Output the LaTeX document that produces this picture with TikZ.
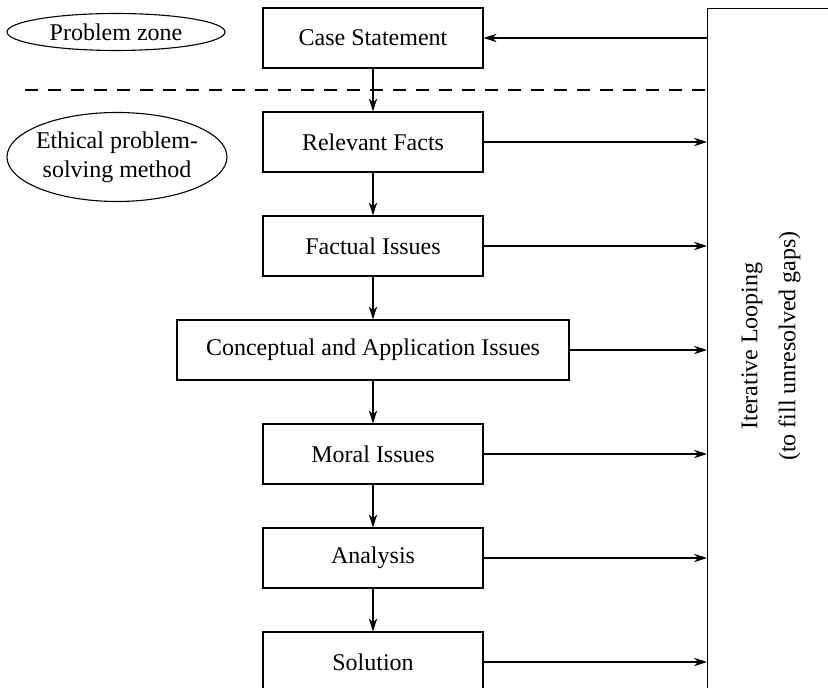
\documentclass[tikz,border=0pt]{standalone}
\usepackage{fontspec}
\setmainfont{Liberation Serif}
\usetikzlibrary{arrows.meta,shapes.geometric}
\begin{document}
\begin{tikzpicture}[x=0.5pt,y=-0.5pt,
  every node/.style={font=\fontsize{12}{14.5}\selectfont},
  stepbox/.style={draw, line width=0.6pt, minimum width=110pt, minimum height=30pt, inner sep=0pt},
  zone/.style={draw, ellipse, line width=0.55pt, align=center},
  zoneline/.style={line width=0.55pt},
  arr/.style={line width=0.6pt, -{Stealth[length=6.5pt,width=4.2pt,inset=2pt]}},
  loopframe/.style={draw, line width=0.7pt, anchor=north west, minimum width=100pt, minimum height=400pt, inner sep=0pt},
]
\useasboundingbox (0,0) rectangle (828,688);
\clip (0,0) rectangle (828,688);

% zone labels
\node[inner sep=0pt] (pz) at (116,32) {Problem zone};
\draw[zoneline] (pz.center) ellipse [x radius=109, y radius=18.5];
\node[zone, inner xsep=-2pt, inner ysep=3pt, minimum width=110pt, minimum height=44.5pt] (ep) at (117,157) {Ethical problem-\\solving method};

% method steps
\node[stepbox] (cs) at (373,38)  {Case Statement};
\node[stepbox] (rf) at (373,142) {Relevant Facts};
\node[stepbox] (fi) at (373,246) {Factual Issues};
\node[stepbox, minimum width=196pt] (ca) at (373,350) {Conceptual and Application Issues};
\node[stepbox] (mi) at (373,454) {Moral Issues};
\node[stepbox] (an) at (373,558) {Analysis};
\node[stepbox] (so) at (373,662) {Solution};

% iterative looping frame
\node[loopframe] (loop) at (707,8) {};
\node[rotate=90, align=center, font=\fontsize{12}{19}\selectfont] (looptext) at (771,346)
  {Iterative Looping\\(to fill unresolved gaps)};

% zone separator
\coordinate (dashstart) at (25,90);
\draw[line width=0.6pt, dash pattern=on 6.5pt off 5pt] (dashstart) -- (dashstart -| loop.west);

% flow down the method
\draw[arr] (cs.south) -- (rf.north);
\draw[arr] (rf.south) -- (fi.north);
\draw[arr] (fi.south) -- (ca.north);
\draw[arr] (ca.south) -- (mi.north);
\draw[arr] (mi.south) -- (an.north);
\draw[arr] (an.south) -- (so.north);

% feedback into the loop
\draw[arr] (cs.east -| loop.west) -- (cs.east);
\foreach \n in {rf,fi,ca,mi,an,so}
  \draw[arr] (\n.east) -- (\n.east -| loop.west);
\end{tikzpicture}
\end{document}
